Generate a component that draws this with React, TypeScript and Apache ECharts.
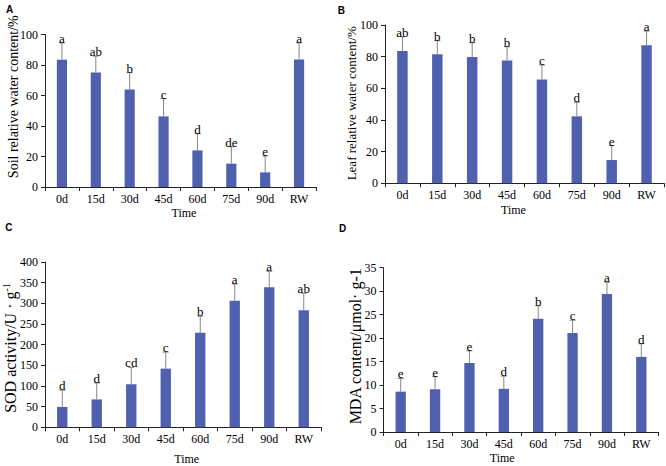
import React, { useEffect, useRef } from "react";
import * as echarts from "echarts";

const categories = ["0d", "15d", "30d", "45d", "60d", "75d", "90d", "RW"];

const soilMean = [83.4, 75.1, 64.0, 46.3, 24.0, 15.3, 9.6, 83.6];
const soilErr = [11.1, 10.7, 11.0, 11.6, 11.0, 11.1, 10.7, 10.9];
const soilSig = ["a", "ab", "b", "c", "d", "de", "e", "a"];

const leafMean = [83.6, 81.5, 79.8, 77.5, 65.5, 42.3, 14.7, 87.2];
const leafErr = [9.0, 8.6, 9.0, 8.8, 9.2, 8.9, 9.1, 9.0];
const leafSig = ["ab", "b", "b", "b", "c", "d", "e", "a"];

const sodMean = [49, 67.5, 104, 142, 229, 306, 339, 283.5];
const sodErr = [41, 40, 41, 40, 40, 41, 38.5, 41];
const sodSig = ["d", "d", "cd", "c", "b", "a", "a", "ab"];

const mdaMean = [8.6, 9.1, 14.7, 9.2, 24.1, 21.1, 29.4, 16.0];
const mdaErr = [2.8, 2.7, 2.6, 2.7, 2.8, 2.7, 2.5, 2.8];
const mdaSig = ["e", "e", "e", "d", "b", "c", "a", "d"];

const SERIF = '"Liberation Serif", "Times New Roman", serif';
const BAR = "#4F60AE";
const ERR = "#858585";
const AXIS = "#222";

type Panel = {
  mean: number[];
  err: number[];
  sig: string[];
  max: number;
  interval: number;
  grid: { left: number; top: number; width: number; height: number };
};

const panels: Panel[] = [
  { mean: soilMean, err: soilErr, sig: soilSig, max: 100, interval: 20, grid: { left: 45, top: 34.5, width: 271, height: 152.5 } },
  { mean: leafMean, err: leafErr, sig: leafSig, max: 100, interval: 20, grid: { left: 385, top: 25, width: 279, height: 158.3 } },
  { mean: sodMean, err: sodErr, sig: sodSig, max: 400, interval: 50, grid: { left: 45, top: 262, width: 276, height: 165.3 } },
  { mean: mdaMean, err: mdaErr, sig: mdaSig, max: 35, interval: 5, grid: { left: 383.5, top: 267.7, width: 275, height: 164.3 } },
];

function buildOption() {
  const grid: any[] = [];
  const xAxis: any[] = [];
  const yAxis: any[] = [];
  const series: any[] = [];
  panels.forEach((p, i) => {
    grid.push({ ...p.grid, containLabel: false });
    xAxis.push({
      type: "category",
      gridIndex: i,
      data: categories,
      boundaryGap: true,
      axisLine: { lineStyle: { color: AXIS, width: 1 } },
      axisTick: { show: true, length: 4, inside: false, lineStyle: { color: AXIS } },
      axisLabel: { color: "#000", fontFamily: SERIF, fontSize: 12, margin: 6 },
      splitLine: { show: false },
    });
    yAxis.push({
      type: "value",
      gridIndex: i,
      min: 0,
      max: p.max,
      interval: p.interval,
      axisLine: { show: true, lineStyle: { color: AXIS, width: 1 } },
      axisTick: { show: true, length: 4, inside: false, lineStyle: { color: AXIS } },
      axisLabel: { color: "#000", fontFamily: SERIF, fontSize: 12, margin: 7 },
      splitLine: { show: false },
    });
    series.push({
      type: "bar",
      xAxisIndex: i,
      yAxisIndex: i,
      data: p.mean,
      barWidth: "30%",
      itemStyle: { color: BAR },
      z: 2,
    });
    const sig = p.sig;
    series.push({
      type: "custom",
      xAxisIndex: i,
      yAxisIndex: i,
      z: 3,
      data: p.mean.map((m, k) => [k, m + p.err[k], m]),
      renderItem: (params: any, api: any) => {
        const x = api.value(0);
        const top = api.coord([x, api.value(1)]);
        const base = api.coord([x, api.value(2)]);
        return {
          type: "group",
          children: [
            {
              type: "line",
              shape: { x1: base[0], y1: base[1], x2: top[0], y2: top[1] },
              style: { stroke: ERR, lineWidth: 1 },
            },
            {
              type: "line",
              shape: { x1: top[0] - 3, y1: top[1], x2: top[0] + 3, y2: top[1] },
              style: { stroke: ERR, lineWidth: 1 },
            },
            {
              type: "text",
              x: top[0],
              y: top[1] + 2,
              style: {
                text: sig[params.dataIndex],
                align: "center",
                verticalAlign: "bottom",
                font: `13px ${SERIF}`,
                fill: "#000",
              },
            },
          ],
        };
      },
    });
  });

  const yTitle = (text: string, x: number, y: number, size: number, rich?: any) => ({
    type: "text",
    x,
    y,
    rotation: Math.PI / 2,
    style: {
      text,
      font: `${size}px ${SERIF}`,
      fontSize: size,
      fontFamily: SERIF,
      fill: "#000",
      align: "center",
      verticalAlign: "middle",
      rich,
    },
  });
  const timeTitle = (x: number, y: number, size: number) => ({
    type: "text",
    x,
    y,
    style: {
      text: "Time",
      font: `${size}px ${SERIF}`,
      fill: "#000",
      align: "center",
      verticalAlign: "middle",
    },
  });
  const letter = (t: string, x: number, y: number) => ({
    type: "text",
    x,
    y,
    style: {
      text: t,
      font: 'bold 10px Arial, "Liberation Sans", sans-serif',
      fill: "#000",
      align: "center",
      verticalAlign: "middle",
    },
  });

  const graphic = [
    letter("A", 9.7, 9.7),
    letter("B", 341.3, 10),
    letter("C", 8.8, 227.3),
    letter("D", 342.7, 228.3),
    yTitle("Soil relative water content/%", 13.3, 96.7, 14),
    yTitle("Leaf relative water content/%", 351.3, 103.3, 13),
    yTitle("SOD activity/U · g{sup|-1}", 10, 348, 16, {
      sup: { fontSize: 10, fontFamily: SERIF, verticalAlign: "top", padding: [0, 0, 7, 0] },
    }),
    yTitle("MDA content/μmol· g-1", 355.5, 346.3, 16),
    timeTitle(184, 213.3, 12),
    timeTitle(513.5, 209.5, 12),
    timeTitle(186.7, 458.5, 12),
    timeTitle(502.2, 458, 12),
  ];

  return {
    animation: false,
    backgroundColor: "#fff",
    grid,
    xAxis,
    yAxis,
    series,
    graphic,
  };
}

export default function App() {
  const ref = useRef<HTMLDivElement>(null);
  useEffect(() => {
    if (!ref.current) return;
    const chart = echarts.init(ref.current, undefined, { renderer: "svg" });
    chart.setOption(buildOption() as any);
    return () => chart.dispose();
  }, []);
  return (
    <div
      ref={ref}
      style={{ position: "fixed", left: 0, top: 0, width: 666, height: 466, background: "#fff" }}
    />
  );
}
